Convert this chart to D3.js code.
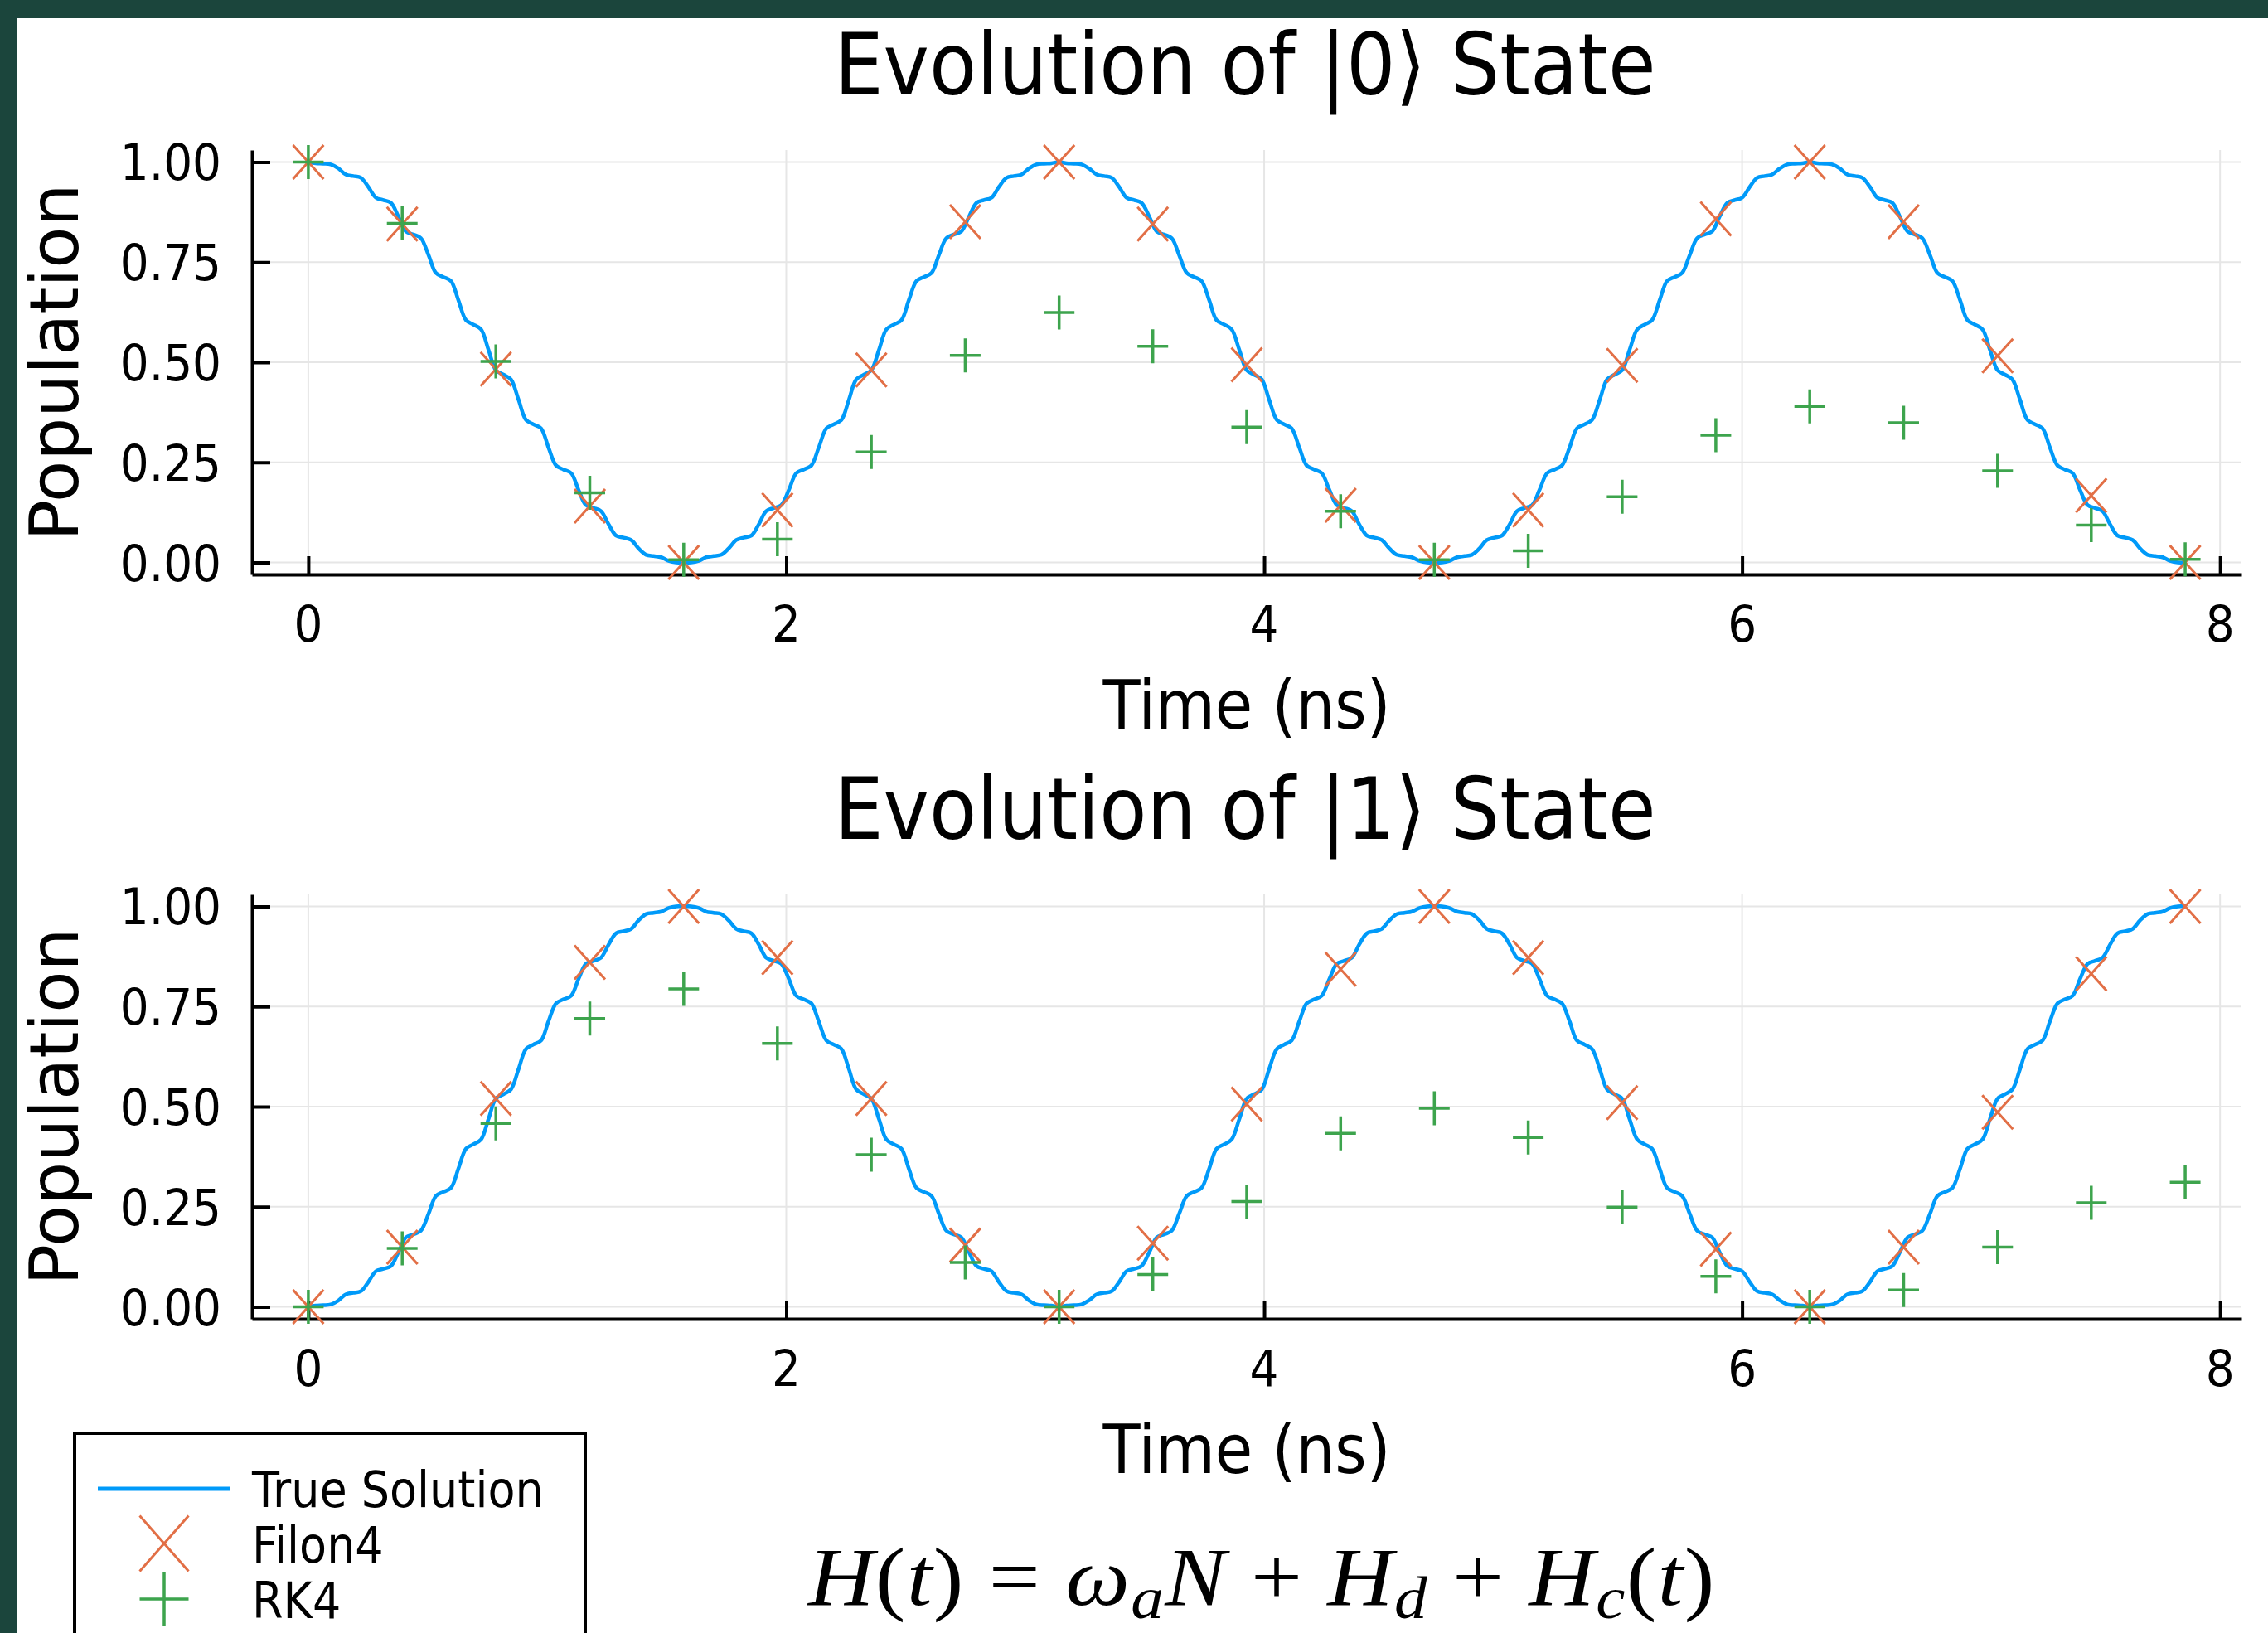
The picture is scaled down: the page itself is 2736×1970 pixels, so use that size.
<!DOCTYPE html>
<html>
<head>
<meta charset="utf-8">
<script src="https://cdnjs.cloudflare.com/ajax/libs/d3/7.8.5/d3.min.js"></script>
<style>
  body { margin: 0; background: #fff; }
  svg text { font-family: "DejaVu Sans", sans-serif; fill: #000; }
</style>
</head>
<body>
<script>
// time samples of the true solution (ns)
var trueTime = [
  0.000, 0.031, 0.063, 0.094, 0.126, 0.157, 0.188, 0.220, 0.251, 0.283,
  0.314, 0.346, 0.377, 0.408, 0.440, 0.471, 0.503, 0.534, 0.565, 0.597,
  0.628, 0.660, 0.691, 0.723, 0.754, 0.785, 0.817, 0.848, 0.880, 0.911,
  0.942, 0.974, 1.005, 1.037, 1.068, 1.100, 1.131, 1.162, 1.194, 1.225,
  1.257, 1.288, 1.319, 1.351, 1.382, 1.414, 1.445, 1.477, 1.508, 1.539,
  1.571, 1.602, 1.634, 1.665, 1.696, 1.728, 1.759, 1.791, 1.822, 1.854,
  1.885, 1.916, 1.948, 1.979, 2.011, 2.042, 2.073, 2.105, 2.136, 2.168,
  2.199, 2.231, 2.262, 2.293, 2.325, 2.356, 2.388, 2.419, 2.450, 2.482,
  2.513, 2.545, 2.576, 2.608, 2.639, 2.670, 2.702, 2.733, 2.765, 2.796,
  2.827, 2.859, 2.890, 2.922, 2.953, 2.985, 3.016, 3.047, 3.079, 3.110,
  3.142, 3.173, 3.204, 3.236, 3.267, 3.299, 3.330, 3.362, 3.393, 3.424,
  3.456, 3.487, 3.519, 3.550, 3.581, 3.613, 3.644, 3.676, 3.707, 3.738,
  3.770, 3.801, 3.833, 3.864, 3.896, 3.927, 3.958, 3.990, 4.021, 4.053,
  4.084, 4.115, 4.147, 4.178, 4.210, 4.241, 4.273, 4.304, 4.335, 4.367,
  4.398, 4.430, 4.461, 4.492, 4.524, 4.555, 4.587, 4.618, 4.650, 4.681,
  4.712, 4.744, 4.775, 4.807, 4.838, 4.869, 4.901, 4.932, 4.964, 4.995,
  5.027, 5.058, 5.089, 5.121, 5.152, 5.184, 5.215, 5.246, 5.278, 5.309,
  5.341, 5.372, 5.404, 5.435, 5.466, 5.498, 5.529, 5.561, 5.592, 5.623,
  5.655, 5.686, 5.718, 5.749, 5.781, 5.812, 5.843, 5.875, 5.906, 5.938,
  5.969, 6.000, 6.032, 6.063, 6.095, 6.126, 6.158, 6.189, 6.220, 6.252,
  6.283, 6.315, 6.346, 6.377, 6.409, 6.440, 6.472, 6.503, 6.535, 6.566,
  6.597, 6.629, 6.660, 6.692, 6.723, 6.754, 6.786, 6.817, 6.849, 6.880,
  6.912, 6.943, 6.974, 7.006, 7.037, 7.069, 7.100, 7.131, 7.163, 7.194,
  7.226, 7.257, 7.288, 7.320, 7.351, 7.383, 7.414, 7.446, 7.477, 7.508,
  7.540, 7.571, 7.603, 7.634, 7.665, 7.697, 7.728, 7.760, 7.791, 7.823,
  7.854
];

// true solution, population of |0>
var trueState0 = [
  1.000, 0.997, 0.996, 0.994, 0.984, 0.969, 0.965, 0.961, 0.938, 0.911,
  0.905, 0.898, 0.864, 0.827, 0.819, 0.810, 0.768, 0.723, 0.713, 0.703,
  0.655, 0.605, 0.594, 0.582, 0.531, 0.480, 0.469, 0.457, 0.406, 0.356,
  0.345, 0.335, 0.287, 0.242, 0.232, 0.223, 0.181, 0.143, 0.136, 0.128,
  0.095, 0.067, 0.062, 0.056, 0.035, 0.019, 0.016, 0.013, 0.004, 0.000,
  0.000, 0.000, 0.004, 0.013, 0.016, 0.019, 0.035, 0.056, 0.062, 0.067,
  0.095, 0.128, 0.136, 0.143, 0.181, 0.223, 0.232, 0.242, 0.287, 0.335,
  0.345, 0.356, 0.406, 0.457, 0.469, 0.480, 0.531, 0.582, 0.594, 0.605,
  0.655, 0.703, 0.713, 0.723, 0.768, 0.810, 0.819, 0.827, 0.864, 0.898,
  0.905, 0.911, 0.938, 0.961, 0.965, 0.969, 0.984, 0.994, 0.996, 0.997,
  1.000, 0.997, 0.996, 0.994, 0.984, 0.969, 0.965, 0.961, 0.938, 0.911,
  0.905, 0.898, 0.864, 0.827, 0.819, 0.810, 0.768, 0.723, 0.713, 0.703,
  0.655, 0.605, 0.594, 0.582, 0.531, 0.480, 0.469, 0.457, 0.406, 0.356,
  0.345, 0.335, 0.287, 0.242, 0.232, 0.223, 0.181, 0.143, 0.136, 0.128,
  0.095, 0.067, 0.062, 0.056, 0.035, 0.019, 0.016, 0.013, 0.004, 0.000,
  0.000, 0.000, 0.004, 0.013, 0.016, 0.019, 0.035, 0.056, 0.062, 0.067,
  0.095, 0.128, 0.136, 0.143, 0.181, 0.223, 0.232, 0.242, 0.287, 0.335,
  0.345, 0.356, 0.406, 0.457, 0.469, 0.480, 0.531, 0.582, 0.594, 0.605,
  0.655, 0.703, 0.713, 0.723, 0.768, 0.810, 0.819, 0.827, 0.864, 0.898,
  0.905, 0.911, 0.938, 0.961, 0.965, 0.969, 0.984, 0.994, 0.996, 0.997,
  1.000, 0.997, 0.996, 0.994, 0.984, 0.969, 0.965, 0.961, 0.938, 0.911,
  0.905, 0.898, 0.864, 0.827, 0.819, 0.810, 0.768, 0.723, 0.713, 0.703,
  0.655, 0.605, 0.594, 0.582, 0.531, 0.480, 0.469, 0.457, 0.406, 0.356,
  0.345, 0.335, 0.287, 0.242, 0.232, 0.223, 0.181, 0.143, 0.136, 0.128,
  0.095, 0.067, 0.062, 0.056, 0.035, 0.019, 0.016, 0.013, 0.004, 0.000,
  0.000
];

// true solution, population of |1>
var trueState1 = [
  0.000, 0.003, 0.004, 0.006, 0.016, 0.031, 0.035, 0.039, 0.062, 0.089,
  0.095, 0.102, 0.136, 0.173, 0.181, 0.190, 0.232, 0.277, 0.287, 0.297,
  0.345, 0.395, 0.406, 0.418, 0.469, 0.520, 0.531, 0.543, 0.594, 0.644,
  0.655, 0.665, 0.713, 0.758, 0.768, 0.777, 0.819, 0.857, 0.864, 0.872,
  0.905, 0.933, 0.938, 0.944, 0.965, 0.981, 0.984, 0.987, 0.996, 1.000,
  1.000, 1.000, 0.996, 0.987, 0.984, 0.981, 0.965, 0.944, 0.938, 0.933,
  0.905, 0.872, 0.864, 0.857, 0.819, 0.777, 0.768, 0.758, 0.713, 0.665,
  0.655, 0.644, 0.594, 0.543, 0.531, 0.520, 0.469, 0.418, 0.406, 0.395,
  0.345, 0.297, 0.287, 0.277, 0.232, 0.190, 0.181, 0.173, 0.136, 0.102,
  0.095, 0.089, 0.062, 0.039, 0.035, 0.031, 0.016, 0.006, 0.004, 0.003,
  0.000, 0.003, 0.004, 0.006, 0.016, 0.031, 0.035, 0.039, 0.062, 0.089,
  0.095, 0.102, 0.136, 0.173, 0.181, 0.190, 0.232, 0.277, 0.287, 0.297,
  0.345, 0.395, 0.406, 0.418, 0.469, 0.520, 0.531, 0.543, 0.594, 0.644,
  0.655, 0.665, 0.713, 0.758, 0.768, 0.777, 0.819, 0.857, 0.864, 0.872,
  0.905, 0.933, 0.938, 0.944, 0.965, 0.981, 0.984, 0.987, 0.996, 1.000,
  1.000, 1.000, 0.996, 0.987, 0.984, 0.981, 0.965, 0.944, 0.938, 0.933,
  0.905, 0.872, 0.864, 0.857, 0.819, 0.777, 0.768, 0.758, 0.713, 0.665,
  0.655, 0.644, 0.594, 0.543, 0.531, 0.520, 0.469, 0.418, 0.406, 0.395,
  0.345, 0.297, 0.287, 0.277, 0.232, 0.190, 0.181, 0.173, 0.136, 0.102,
  0.095, 0.089, 0.062, 0.039, 0.035, 0.031, 0.016, 0.006, 0.004, 0.003,
  0.000, 0.003, 0.004, 0.006, 0.016, 0.031, 0.035, 0.039, 0.062, 0.089,
  0.095, 0.102, 0.136, 0.173, 0.181, 0.190, 0.232, 0.277, 0.287, 0.297,
  0.345, 0.395, 0.406, 0.418, 0.469, 0.520, 0.531, 0.543, 0.594, 0.644,
  0.655, 0.665, 0.713, 0.758, 0.768, 0.777, 0.819, 0.857, 0.864, 0.872,
  0.905, 0.933, 0.938, 0.944, 0.965, 0.981, 0.984, 0.987, 0.996, 1.000,
  1.000
];

// solver time steps (ns)
var stepTime = [0, 0.393, 0.785, 1.178, 1.571, 1.963, 2.356, 2.749, 3.142, 3.534, 3.927,
  4.320, 4.712, 5.105, 5.498, 5.890, 6.283, 6.676, 7.069, 7.461, 7.854];

var filonState0 = [1.0, 0.845, 0.483, 0.141, 0.0, 0.131, 0.481, 0.851, 1.0, 0.845, 0.494,
  0.143, 0.0, 0.131, 0.492, 0.858, 1.0, 0.851, 0.516, 0.167, 0.0];
var rk4State0 = [1.0, 0.847, 0.502, 0.174, 0.007, 0.058, 0.276, 0.517, 0.624, 0.540, 0.338,
  0.128, 0.007, 0.029, 0.164, 0.318, 0.390, 0.349, 0.229, 0.093, 0.008];

var filonState1 = [0.0, 0.149, 0.520, 0.860, 1.0, 0.872, 0.520, 0.154, 0.0, 0.159, 0.506,
  0.843, 1.0, 0.872, 0.510, 0.144, 0.0, 0.149, 0.486, 0.832, 1.0];
var rk4State1 = [0.0, 0.146, 0.458, 0.720, 0.794, 0.658, 0.380, 0.111, 0.0, 0.081, 0.263,
  0.433, 0.496, 0.423, 0.249, 0.076, 0.0, 0.042, 0.149, 0.260, 0.311];

var xTicks = [0, 2, 4, 6, 8];
var yTicks = [0, 0.25, 0.5, 0.75, 1];
var titles = ["Evolution of |0\u27E9 State", "Evolution of |1\u27E9 State"];
var seriesNames = ["True Solution", "Filon4", "RK4"];

var width = 2736, height = 1970;
var squeeze = 0.9;   // text in the picture is a bit narrow
var blue = "#009af9", orange = "#e26f46", green = "#3da44d";

var svg = d3.select("body")
  .append("svg")
  .attr("width", width)
  .attr("height", height);

svg.append("rect").attr("width", width).attr("height", height).attr("fill", "#fff");

// dark frame on top and left
svg.append("rect").attr("x", 0).attr("y", 0).attr("width", width).attr("height", 22).attr("fill", "#1b453c");
svg.append("rect").attr("x", 0).attr("y", 0).attr("width", 20).attr("height", height).attr("fill", "#1b453c");

var x = d3.scaleLinear().domain([-0.2356, 8.0896]).range([304, 2704]);

// narrow horizontal text
function label(g, px, py, str, size, anchor) {
  return g.append("text")
    .attr("transform", "translate(" + px + "," + py + ") scale(" + squeeze + ",1)")
    .attr("text-anchor", anchor || "middle")
    .style("font-size", size + "px")
    .text(str);
}

var xMark = function (w, h) { return "M" + (-w) + "," + (-h) + "L" + w + "," + h + "M" + (-w) + "," + h + "L" + w + "," + (-h); };
var plusMark = function (w, h) { return "M" + (-w) + ",0H" + w + "M0," + (-h) + "V" + h; };

var panels = [
  { top: 181, bottom: 693, title: titles[0], titleY: 114, line: trueState0, filon: filonState0, rk4: rk4State0 },
  { top: 1079, bottom: 1591, title: titles[1], titleY: 1012, line: trueState1, filon: filonState1, rk4: rk4State1 }
];

panels.forEach(function (p) {
  var g = svg.append("g");
  var y = d3.scaleLinear().domain([-0.03, 1.03]).range([p.bottom, p.top]);

  // grid
  g.append("g").selectAll("line").data(xTicks).enter().append("line")
    .attr("x1", d => x(d)).attr("x2", d => x(d))
    .attr("y1", p.top).attr("y2", p.bottom)
    .attr("stroke", "#e6e6e6").attr("stroke-width", 2);
  g.append("g").selectAll("line").data(yTicks).enter().append("line")
    .attr("x1", x.range()[0]).attr("x2", x.range()[1])
    .attr("y1", d => y(d)).attr("y2", d => y(d))
    .attr("stroke", "#e6e6e6").attr("stroke-width", 2);

  // axes, ticks pointing inside
  var ax = g.append("g")
    .attr("transform", "translate(" + x.range()[0] + ",0)")
    .call(d3.axisLeft(y).tickValues(yTicks).tickSize(-22).tickSizeOuter(0).tickFormat(""));
  var bx = g.append("g")
    .attr("transform", "translate(0," + p.bottom + ")")
    .call(d3.axisBottom(x).tickValues(xTicks).tickSize(-22).tickSizeOuter(0).tickFormat(""));
  [ax, bx].forEach(function (a) {
    a.select(".domain").attr("stroke", "#000").attr("stroke-width", 4);
    a.selectAll(".tick line").attr("stroke", "#000").attr("stroke-width", 4);
  });

  yTicks.forEach(function (v) { label(g, 267, y(v) + 22, d3.format(".2f")(v), 61, "end"); });
  xTicks.forEach(function (v) { label(g, x(v), p.bottom + 81, String(v), 61); });

  label(g, 1502, p.titleY, p.title, 104);
  label(g, 1504, p.bottom + 186, "Time (ns)", 82);
  g.append("text")
    .attr("transform", "translate(94," + ((p.top + p.bottom) / 2) + ") rotate(-90)")
    .attr("text-anchor", "middle")
    .style("font-size", "82px")
    .text("Population");

  // true solution
  var line = d3.line()
    .x((d, i) => x(trueTime[i]))
    .y(d => y(d))
    .curve(d3.curveCatmullRom);
  g.append("path")
    .datum(p.line)
    .attr("d", line)
    .attr("fill", "none")
    .attr("stroke", blue)
    .attr("stroke-width", 4.5)
    .attr("stroke-linejoin", "round");

  // Filon4 and RK4 points
  g.append("g").selectAll("path").data(p.filon).enter().append("path")
    .attr("transform", (d, i) => "translate(" + x(stepTime[i]) + "," + y(d) + ")")
    .attr("d", xMark(18.5, 20.5))
    .attr("fill", "none").attr("stroke", orange).attr("stroke-width", 3);
  g.append("g").selectAll("path").data(p.rk4).enter().append("path")
    .attr("transform", (d, i) => "translate(" + x(stepTime[i]) + "," + y(d) + ")")
    .attr("d", plusMark(18.5, 20.5))
    .attr("fill", "none").attr("stroke", green).attr("stroke-width", 3.5);
});

// legend
var lg = svg.append("g");
lg.append("rect")
  .attr("x", 90).attr("y", 1729).attr("width", 616).attr("height", 300)
  .attr("fill", "#fff").attr("stroke", "#000").attr("stroke-width", 4);
lg.append("line").attr("x1", 118).attr("x2", 277).attr("y1", 1796).attr("y2", 1796)
  .attr("stroke", blue).attr("stroke-width", 5);
lg.append("path").attr("transform", "translate(198,1862)").attr("d", xMark(29.5, 33.5))
  .attr("fill", "none").attr("stroke", orange).attr("stroke-width", 3);
lg.append("path").attr("transform", "translate(198,1929)").attr("d", plusMark(29.5, 33))
  .attr("fill", "none").attr("stroke", green).attr("stroke-width", 3.5);
[1818, 1885, 1952].forEach(function (by, i) { label(lg, 304, by, seriesNames[i], 60, "start"); });

// Hamiltonian, slightly widened serif
var eq = svg.append("text")
  .attr("transform", "translate(975,1936) scale(1.1,1)")
  .attr("textLength", 994).attr("lengthAdjust", "spacing")
  .style("font-family", "'Liberation Serif', serif")
  .style("font-size", "100px");
var parts = [
  ["H", 1], ["(", 0], ["t", 1], [") = ", 0], ["\u03C9", 1], ["a", 2],
  ["N", 1], [" + ", 0], ["H", 1], ["d", 2], [" + ", 0], ["H", 1], ["c", 2],
  ["(", 0], ["t", 1], [")", 0]
];
var low = false;
parts.forEach(function (q) {
  var ts = eq.append("tspan").text(q[0]);
  if (q[1] > 0) ts.style("font-style", "italic");
  if (q[1] === 2) { ts.style("font-size", "72px").attr("dy", 16); low = true; }
  else if (low) { ts.attr("dy", -16); low = false; }
});
</script>
</body>
</html>
